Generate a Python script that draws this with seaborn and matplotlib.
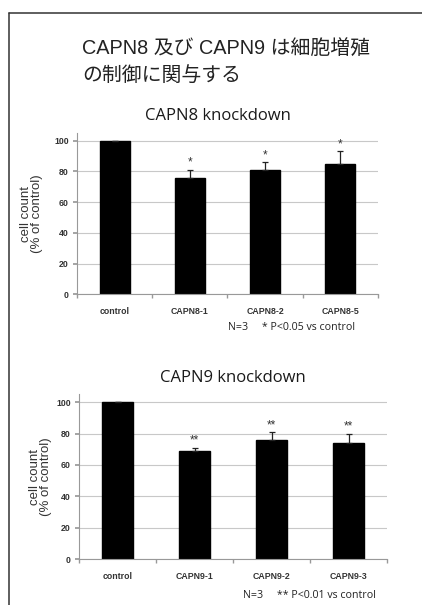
import numpy as np
import matplotlib
matplotlib.use("Agg")
import matplotlib.pyplot as plt
import seaborn as sns
from matplotlib.lines import Line2D


# CAPN8 knockdown
capn8_labels = ["control", "CAPN8-1", "CAPN8-2", "CAPN8-5"]
capn8_values = [100, 76, 81, 85]
capn8_errors = [0, 5, 5, 8]
capn8_marks = ["", "*", "*", "*"]

# CAPN9 knockdown
capn9_labels = ["control", "CAPN9-1", "CAPN9-2", "CAPN9-3"]
capn9_values = [100, 69, 76, 74]
capn9_errors = [0, 2, 5, 6]
capn9_marks = ["", "**", "**", "**"]

y_ticks = [0, 20, 40, 60, 80, 100]

title_lines = ["CAPN8 及び CAPN9 は細胞増殖", "の制御に関与する"]


sns.set_theme(style="white")
plt.rcParams["font.family"] = ["Liberation Sans", "DejaVu Sans"]

fig = plt.figure(figsize=(4.22, 6.05), dpi=100)

# page frame (left + top edge)
fig.add_artist(Line2D([9 / 422, 9 / 422], [0, 1 - 13 / 605],
                      color="#333333", lw=1.1))
fig.add_artist(Line2D([9 / 422, 1], [1 - 13 / 605, 1 - 13 / 605],
                      color="#333333", lw=1.1))

title_font = ["Liberation Sans", "Noto Sans CJK JP"]

fig.text(0.194, 1 - 48 / 605, title_lines[0], fontsize=14.3,
         family=title_font, ha="left", va="center", color="#222222")
fig.text(0.194, 1 - 75 / 605, title_lines[1], fontsize=14.3,
         family=title_font, ha="left", va="center", color="#222222")


def draw_panel(ax, labels, values, errors, marks, label_x):

    sns.barplot(
        x=labels,
        y=values,
        color="black",
        edgecolor="black",
        saturation=1,
        width=0.4,
        ax=ax
    )

    pos = np.arange(len(labels))

    ax.errorbar(
        pos,
        values,
        yerr=[np.zeros(len(errors)), errors],
        fmt="none",
        ecolor="#222222",
        elinewidth=0.9,
        capsize=2,
        capthick=0.9
    )

    for p, v, e, m in zip(pos, values, errors, marks):
        if m:
            ax.text(p, v + e + 4.5, m, ha="center", va="center",
                    fontsize=8.5, color="#333333")

    ax.set_ylim(0, 105)
    ax.set_xlim(-0.5, len(labels) - 0.5)
    ax.set_yticks(y_ticks)
    ax.set_xticks(np.arange(-0.5, len(labels)), minor=True)

    ax.yaxis.grid(True, color="#c8c8c8", lw=0.8)
    ax.set_axisbelow(True)

    for s in ["top", "right"]:
        ax.spines[s].set_visible(False)
    for s in ["left", "bottom"]:
        ax.spines[s].set_color("#999999")
        ax.spines[s].set_linewidth(0.8)

    ax.tick_params(axis="y", which="major", left=True, length=3,
                   color="#999999", labelsize=6.3, pad=3)
    ax.tick_params(axis="x", which="major", bottom=False, length=0,
                   labelsize=6.3, pad=9)
    ax.tick_params(axis="x", which="minor", bottom=True, length=3,
                   color="#999999")

    for t in ax.get_xticklabels() + ax.get_yticklabels():
        t.set_fontweight("bold")
        t.set_color("#333333")

    ax.set_ylabel("cell count\n(% of control)", fontsize=9.5,
                  linespacing=0.9, color="#333333")
    ax.yaxis.set_label_coords(label_x, 0.5)
    ax.set_xlabel("")


ax1 = fig.add_axes([0.1825, 0.5136, 0.713, 0.2666])
draw_panel(ax1, capn8_labels, capn8_values, capn8_errors, capn8_marks, -0.113)

ax2 = fig.add_axes([0.1872, 0.076, 0.730, 0.272])
draw_panel(ax2, capn9_labels, capn9_values, capn9_errors, capn9_marks, -0.088)

sub_font = ["Open Sans", "DejaVu Sans"]

fig.text(0.517, 1 - 116 / 605, "CAPN8 knockdown", fontsize=12,
         family=sub_font, ha="center", va="center", color="#1a1a1a")
fig.text(0.552, 1 - 378 / 605, "CAPN9 knockdown", fontsize=12,
         family=sub_font, ha="center", va="center", color="#1a1a1a")

fig.text(0.540, 1 - 328 / 605, "N=3     * P<0.05 vs control", fontsize=7.7,
         family=sub_font, ha="left", va="center", color="#222222")
fig.text(0.576, 1 - 595 / 605, "N=3     ** P<0.01 vs control", fontsize=7.7,
         family=sub_font, ha="left", va="center", color="#222222")

fig.savefig("out.png", dpi=100)
plt.close()
